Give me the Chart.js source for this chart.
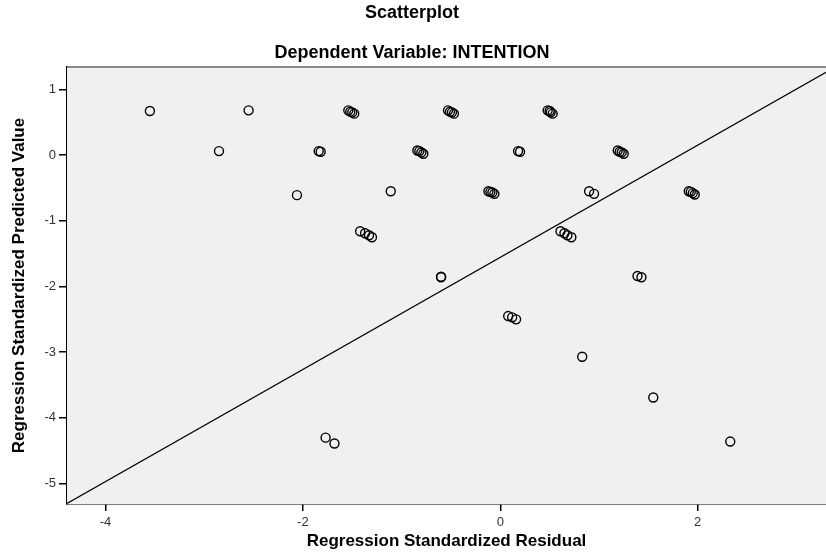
<!DOCTYPE html>
<html>
<head>
<meta charset="utf-8">
<title>Scatterplot</title>
<script src="https://cdn.jsdelivr.net/npm/chart.js@4.4.1/dist/chart.umd.min.js"></script>
<style>
  html, body { margin: 0; padding: 0; background: #fff; }
  #wrap { width: 826px; height: 559px; }
</style>
</head>
<body>
<div id="wrap"><canvas id="chart"></canvas></div>
<script>
// データ
const residual = [
  -3.55, -2.55, -2.85, -2.06,
  -1.54, -1.52, -1.50, -1.48,
  -0.53, -0.51, -0.49, -0.47,
  0.48, 0.50, 0.51, 0.53,
  -1.84, -1.82,
  -0.84, -0.82, -0.80, -0.78,
  0.18, 0.20,
  1.19, 1.21, 1.23, 1.25,
  -1.11,
  -0.12, -0.10, -0.08, -0.06,
  0.90, 0.95,
  1.91, 1.93, 1.95, 1.97,
  -1.42, -1.37, -1.33, -1.30,
  0.61, 0.65, 0.68, 0.72,
  -0.60, -0.60,
  0.08, 0.12, 0.16,
  1.39, 1.43,
  0.83, 1.55,
  -1.77, -1.68, 2.33
];
const predicted = [
  0.67, 0.68, 0.06, -0.61,
  0.68, 0.66, 0.65, 0.63,
  0.68, 0.66, 0.65, 0.63,
  0.68, 0.67, 0.65, 0.63,
  0.06, 0.05,
  0.07, 0.06, 0.04, 0.02,
  0.06, 0.05,
  0.07, 0.05, 0.04, 0.02,
  -0.55,
  -0.55, -0.56, -0.57, -0.59,
  -0.55, -0.59,
  -0.55, -0.56, -0.58, -0.60,
  -1.16, -1.19, -1.22, -1.25,
  -1.16, -1.19, -1.22, -1.25,
  -1.85, -1.86,
  -2.45, -2.47, -2.50,
  -1.84, -1.86,
  -3.07, -3.69,
  -4.30, -4.39, -4.36
];
const xTicks = [-4, -2, 0, 2];
const yTicks = [1, 0, -1, -2, -3, -4, -5];
const xRange = [-4.39, 3.30];
const yRange = [-5.31, 1.34];
// 参照線（傾き・切片）
const fitSlope = 0.853;
const fitIntercept = -1.557;

const mainTitle = 'Scatterplot';
const subTitle = 'Dependent Variable: INTENTION';

var points = residual.map(function(x, i){
  return { x: x, y: predicted[i] };
});
var fitLine = xRange.map(function(x){
  return { x: x, y: fitIntercept + fitSlope * x };
});

const FONT = '"Liberation Sans", Arial, sans-serif';

// 背景・上枠・タイトルを描くプラグイン
const spssFrame = {
  id: 'spssFrame',
  beforeDatasetsDraw: function(chart){
    const a = chart.chartArea;
    const ctx = chart.ctx;
    ctx.save();
    ctx.fillStyle = '#f0f0f0';
    ctx.fillRect(a.left, a.top, a.right - a.left, a.bottom - a.top);
    ctx.restore();
  },
  afterDraw: function(chart){
    const a = chart.chartArea;
    const ctx = chart.ctx;
    ctx.save();
    ctx.strokeStyle = '#666';
    ctx.lineWidth = 1.5;
    ctx.beginPath();
    ctx.moveTo(a.left, a.top);
    ctx.lineTo(a.right, a.top);
    ctx.stroke();
    ctx.fillStyle = '#000';
    ctx.font = 'bold 18px ' + FONT;
    ctx.textAlign = 'center';
    ctx.textBaseline = 'middle';
    ctx.fillText(mainTitle, 412, 13);
    ctx.fillText(subTitle, 412, 53);
    ctx.restore();
  }
};

var ctx = document.getElementById('chart');
var chart = new Chart(ctx, {
  type: 'scatter',
  data: {
    datasets: [{
      data: points,
      pointStyle: 'circle',
      pointRadius: 4.5,
      pointHoverRadius: 4.5,
      borderWidth: 1.4,
      borderColor: '#000',
      backgroundColor: 'rgba(0,0,0,0)'
    }, {
      type: 'line',
      data: fitLine,
      borderColor: '#000',
      borderWidth: 1.2,
      pointRadius: 0,
      pointHoverRadius: 0,
      fill: false
    }]
  },
  options: {
    responsive: true,
    maintainAspectRatio: false,
    animation: false,
    layout: { autoPadding: false, padding: { top: 67, right: 0, left: 0, bottom: 0 } },
    plugins: {
      legend: { display: false },
      tooltip: { enabled: false }
    },
    scales: {
      x: {
        type: 'linear',
        min: xRange[0],
        max: xRange[1],
        afterBuildTicks: function(scale){
          scale.ticks = xTicks.map(function(v){ return { value: v }; });
        },
        afterFit: function(scale){ scale.height = 55; },
        grid: { display: true, drawOnChartArea: false, drawTicks: true, tickLength: 7, color: '#000', lineWidth: 1.5 },
        border: { display: true, color: '#000', width: 1.5 },
        ticks: { color: '#333', font: { family: FONT, size: 13 }, padding: 4, maxRotation: 0 },
        title: {
          display: true,
          text: 'Regression Standardized Residual',
          color: '#000',
          font: { family: FONT, size: 17, weight: 'bold' },
          padding: { top: 0, bottom: 7 }
        }
      },
      y: {
        type: 'linear',
        min: yRange[0],
        max: yRange[1],
        afterBuildTicks: function(scale){
          scale.ticks = yTicks.map(function(v){ return { value: v }; });
        },
        afterFit: function(scale){ scale.width = 67; },
        grid: { display: true, drawOnChartArea: false, drawTicks: true, tickLength: 8, color: '#000', lineWidth: 1.5 },
        border: { display: true, color: '#000', width: 1.5 },
        ticks: { color: '#333', font: { family: FONT, size: 13 }, padding: 3 },
        title: {
          display: true,
          text: 'Regression Standardized Predicted Value',
          color: '#000',
          font: { family: FONT, size: 17, weight: 'bold' },
          padding: { top: 9, bottom: 0 }
        }
      }
    }
  },
  plugins: [spssFrame]
});
</script>
</body>
</html>
